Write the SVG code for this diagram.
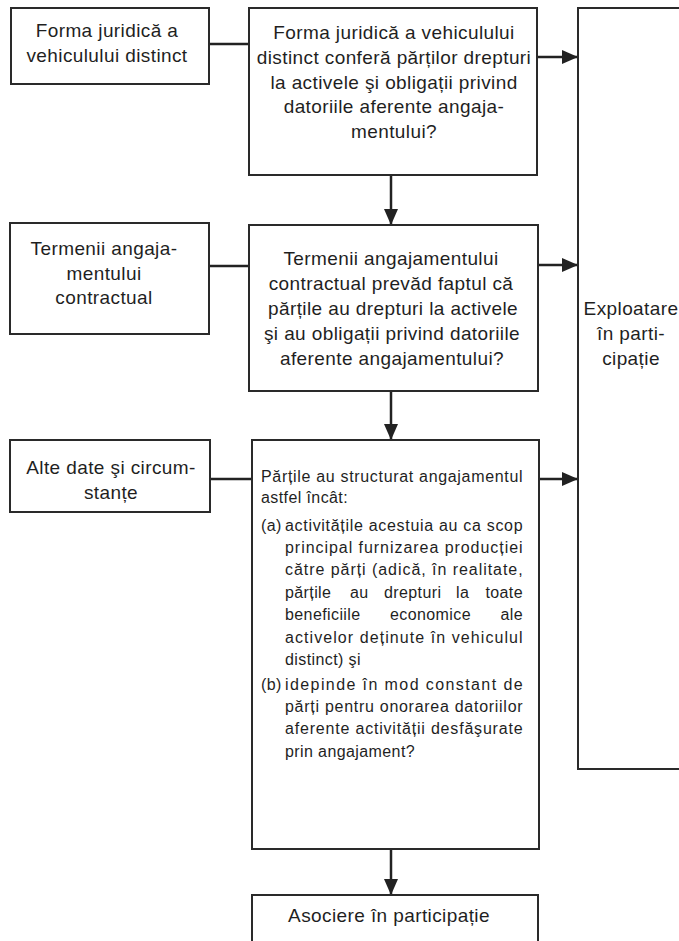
<svg xmlns="http://www.w3.org/2000/svg" width="679" height="941" viewBox="0 0 679 941">
<style>
.box{fill:#fff;stroke:#2a2a2a;stroke-width:2}
.t{font-family:"Liberation Sans",Arial,Helvetica,sans-serif;font-size:19px;fill:#1f1f1f;letter-spacing:0.4px;text-anchor:middle}
.s{font-family:"Liberation Sans",Arial,Helvetica,sans-serif;font-size:16px;fill:#1f1f1f;letter-spacing:0.4px}
.e{text-anchor:end}
.c{stroke:#222;stroke-width:2.5;fill:none}
</style>
<defs>
<marker id="ah" viewBox="0 0 16 14" refX="16" refY="7" markerWidth="16" markerHeight="14" markerUnits="userSpaceOnUse" orient="auto">
<path d="M0,0 L16,7 L0,14 z" fill="#222"/>
</marker>
</defs>
<rect width="679" height="941" fill="#fff"/>
<g id="connectors">
<line class="c" x1="209" y1="44" x2="249" y2="44"/>
<line class="c" x1="209" y1="266" x2="249" y2="266"/>
<line class="c" x1="210" y1="479" x2="252" y2="479"/>
<line class="c" x1="537" y1="57" x2="578" y2="57" marker-end="url(#ah)"/>
<line class="c" x1="538" y1="265" x2="578" y2="265" marker-end="url(#ah)"/>
<line class="c" x1="539" y1="479" x2="578" y2="479" marker-end="url(#ah)"/>
<line class="c" x1="391" y1="175" x2="391" y2="225" marker-end="url(#ah)"/>
<line class="c" x1="391" y1="391" x2="391" y2="440" marker-end="url(#ah)"/>
<line class="c" x1="391" y1="849" x2="391" y2="895" marker-end="url(#ah)"/>
</g>
<g id="n-forma">
<rect class="box" x="11" y="8" width="198" height="76"/>
<text class="t" x="107" y="37">Forma juridică a</text>
<text class="t" x="107" y="62">vehiculului distinct</text>
</g>
<g id="n-q1">
<rect class="box" x="249" y="8" width="288" height="167"/>
<text class="t" x="394" y="39">Forma juridică a vehiculului</text>
<text class="t" x="394" y="64">distinct conferă părților drepturi</text>
<text class="t" x="394" y="88.5">la activele şi obligații privind</text>
<text class="t" x="394" y="113">datoriile aferente angaja-</text>
<text class="t" x="394" y="138">mentului?</text>
</g>
<g id="n-termenii">
<rect class="box" x="10" y="223" width="199" height="111"/>
<text class="t" x="104" y="254.5">Termenii angaja-</text>
<text class="t" x="104" y="279.5">mentului</text>
<text class="t" x="104" y="304">contractual</text>
</g>
<g id="n-q2">
<rect class="box" x="249" y="225" width="289" height="166"/>
<text class="t" x="391" y="265">Termenii angajamentului</text>
<text class="t" x="391" y="290">contractual prevăd faptul că</text>
<text class="t" x="393" y="315">părțile au drepturi la activele</text>
<text class="t" x="392" y="340">şi au obligații privind datoriile</text>
<text class="t" x="392" y="365">aferente angajamentului?</text>
</g>
<g id="n-alte">
<rect class="box" x="10" y="440" width="200" height="72"/>
<text class="t" x="111" y="474">Alte date şi circum-</text>
<text class="t" x="111" y="498.5">stanțe</text>
</g>
<g id="n-q3">
<rect class="box" x="252" y="440" width="287" height="409"/>
<text class="s" x="261" y="481.5" textLength="262" lengthAdjust="spacing">Părțile au structurat angajamentul</text>
<text class="s" x="261" y="503">astfel încât:</text>
<text class="s" x="261" y="531">(a)</text>
<text class="s" x="285" y="531" textLength="238" lengthAdjust="spacing">activitățile acestuia au ca scop</text>
<text class="s" x="285" y="553" textLength="238" lengthAdjust="spacing">principal furnizarea producției</text>
<text class="s" x="285" y="575" textLength="238" lengthAdjust="spacing">către părți (adică, în realitate,</text>
<text class="s" x="285" y="597.5">părțile</text>
<text class="s" x="350" y="597.5">au</text>
<text class="s" x="384" y="597.5">drepturi</text>
<text class="s" x="456" y="597.5">la</text>
<text class="s e" x="523" y="597.5">toate</text>
<text class="s" x="285" y="620">beneficiile</text>
<text class="s" x="390" y="620">economice</text>
<text class="s e" x="523" y="620">ale</text>
<text class="s" x="285" y="642.5" textLength="238" lengthAdjust="spacing">activelor deținute în vehiculul</text>
<text class="s" x="285" y="665">distinct) şi</text>
<text class="s" x="261" y="690">(b)</text>
<text class="s" x="285" y="690" textLength="238" lengthAdjust="spacing">idepinde în mod constant de</text>
<text class="s" x="285" y="712" textLength="238" lengthAdjust="spacing">părți pentru onorarea datoriilor</text>
<text class="s" x="285" y="734" textLength="238" lengthAdjust="spacing">aferente activității desfăşurate</text>
<text class="s" x="285" y="756.5">prin angajament?</text>
</g>
<g id="n-exploatare">
<rect class="box" x="578" y="8" width="120" height="761"/>
<text class="t" x="631" y="315">Exploatare</text>
<text class="t" x="631" y="340">în parti-</text>
<text class="t" x="631" y="365">cipație</text>
</g>
<g id="n-asociere">
<rect class="box" x="252" y="895" width="286" height="60"/>
<text class="t" x="389" y="921.5">Asociere în participație</text>
</g>
</svg>
